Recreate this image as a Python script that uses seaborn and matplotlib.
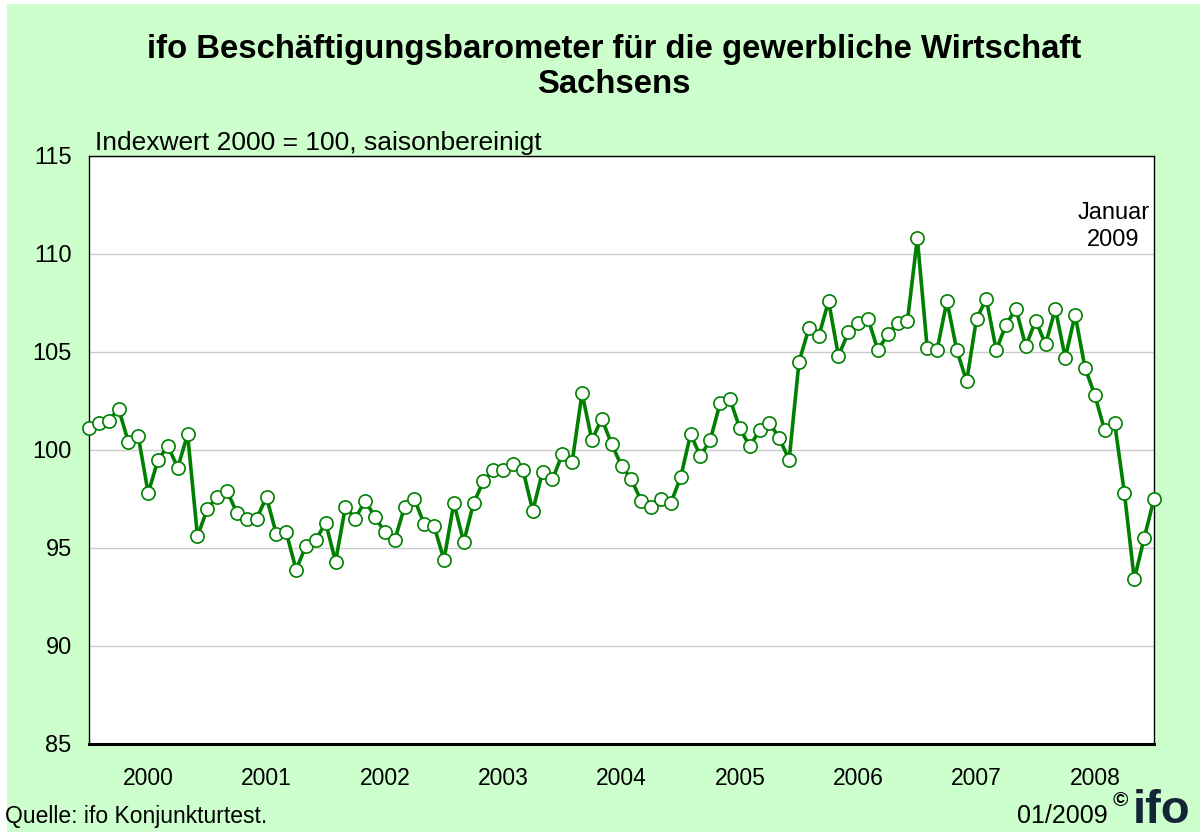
import numpy as np
import pandas as pd
import matplotlib
matplotlib.use('Agg')
import matplotlib.pyplot as plt
import seaborn as sns

# Monatswerte Jan 2000 - Jan 2009 (Index 2000 = 100, saisonbereinigt)
werte_2000 = [101.1, 101.4, 101.5, 102.1, 100.4, 100.7, 97.8, 99.5, 100.2, 99.1, 100.8, 95.6]
werte_2001 = [97.0, 97.6, 97.9, 96.8, 96.5, 96.5, 97.6, 95.7, 95.8, 93.9, 95.1, 95.4]
werte_2002 = [96.3, 94.3, 97.1, 96.5, 97.4, 96.6, 95.8, 95.4, 97.1, 97.5, 96.2, 96.1]
werte_2003 = [94.4, 97.3, 95.3, 97.3, 98.4, 99.0, 99.0, 99.3, 99.0, 96.9, 98.9, 98.5]
werte_2004 = [99.8, 99.4, 102.9, 100.5, 101.6, 100.3, 99.2, 98.5, 97.4, 97.1, 97.5, 97.3]
werte_2005 = [98.6, 100.8, 99.7, 100.5, 102.4, 102.6, 101.1, 100.2, 101.0, 101.4, 100.6, 99.5]
werte_2006 = [104.5, 106.2, 105.8, 107.6, 104.8, 106.0, 106.5, 106.7, 105.1, 105.9, 106.5, 106.6]
werte_2007 = [110.8, 105.2, 105.1, 107.6, 105.1, 103.5, 106.7, 107.7, 105.1, 106.4, 107.2, 105.3]
werte_2008 = [106.6, 105.4, 107.2, 104.7, 106.9, 104.2, 102.8, 101.0, 101.4, 97.8, 93.4, 95.5]
werte_2009 = [97.5]

jahre = ['2000', '2001', '2002', '2003', '2004', '2005', '2006', '2007', '2008']
y_ticks = [85, 90, 95, 100, 105, 110, 115]

werte = (werte_2000 + werte_2001 + werte_2002 + werte_2003 + werte_2004 +
         werte_2005 + werte_2006 + werte_2007 + werte_2008 + werte_2009)
df = pd.DataFrame({'monat': np.arange(len(werte)), 'index': werte})

sns.set_style('white')
plt.rcParams['font.family'] = ['Liberation Sans', 'DejaVu Sans']
plt.rcParams['text.color'] = 'black'
plt.rcParams['xtick.color'] = 'black'
plt.rcParams['ytick.color'] = 'black'

gruen_bg = '#ccffcc'
fig = plt.figure(figsize=(12, 8.32), dpi=100)
fig.patch.set_facecolor('white')
fig.patches.append(plt.Rectangle((7 / 1200, 0), 1, 1 - 4 / 832, transform=fig.transFigure,
                                 facecolor=gruen_bg, edgecolor='none', zorder=-10))

ax = fig.add_axes([89 / 1200, 88 / 832, (1154 - 89) / 1200, (744 - 156) / 832])
ax.set_facecolor('white')

sns.lineplot(data=df, x='monat', y='index', ax=ax, color='#008000', linewidth=2.6,
             marker='o', markersize=9.5, markerfacecolor='white',
             markeredgecolor='#008000', markeredgewidth=1.2, clip_on=False, zorder=3)

ax.set_xlim(0, 108)
ax.set_ylim(85, 115)
ax.set_yticks(y_ticks)
ax.set_yticklabels([str(v) for v in y_ticks], fontsize=17)
ax.yaxis.grid(True, color='#cccccc', linewidth=1)
ax.set_axisbelow(True)

ax.set_xticks(np.arange(0, 109, 12))
ax.set_xticklabels([])
ax.set_xticks(np.arange(6, 108, 12), minor=True)
ax.set_xticklabels(jahre, minor=True, fontsize=16.5)
ax.tick_params(axis='x', which='major', direction='out', length=6, width=1, color='black')
ax.tick_params(axis='x', which='minor', length=0, pad=16.5)
ax.tick_params(axis='y', direction='out', length=5.5, width=1, color='black', pad=7)
ax.set_xlabel('')
ax.set_ylabel('')

for s in ['top', 'right', 'left']:
    ax.spines[s].set_color('black')
    ax.spines[s].set_linewidth(1)
ax.spines['bottom'].set_color('black')
ax.spines['bottom'].set_linewidth(2.2)

ax.text(103.9, 111.4, 'Januar\n2009', ha='center', va='center', fontsize=17,
        multialignment='center', linespacing=1.3)

fig.text(614 / 1200, 1 - 67 / 832, 'ifo Beschäftigungsbarometer für die gewerbliche Wirtschaft\nSachsens',
         ha='center', va='center', fontsize=23.7, fontweight='bold', linespacing=1.2)
fig.text(95 / 1200, 1 - 143 / 832, 'Indexwert 2000 = 100, saisonbereinigt',
         ha='left', va='center', fontsize=19)
fig.text(5 / 1200, 1 - 816 / 832, 'Quelle: ifo Konjunkturtest.', ha='left', va='center', fontsize=16.5)
fig.text(1108 / 1200, 1 - 816 / 832, '01/2009', ha='right', va='center', fontsize=18)
fig.text(1120 / 1200, 1 - 800 / 832, '©', ha='center', va='center', fontsize=15, fontweight='bold')
fig.text(1133 / 1200, 1 - 823 / 832, 'ifo', ha='left', va='baseline', fontsize=34,
         fontweight='bold', color='#142537')

plt.savefig('out.png', dpi=100, facecolor=fig.get_facecolor())
